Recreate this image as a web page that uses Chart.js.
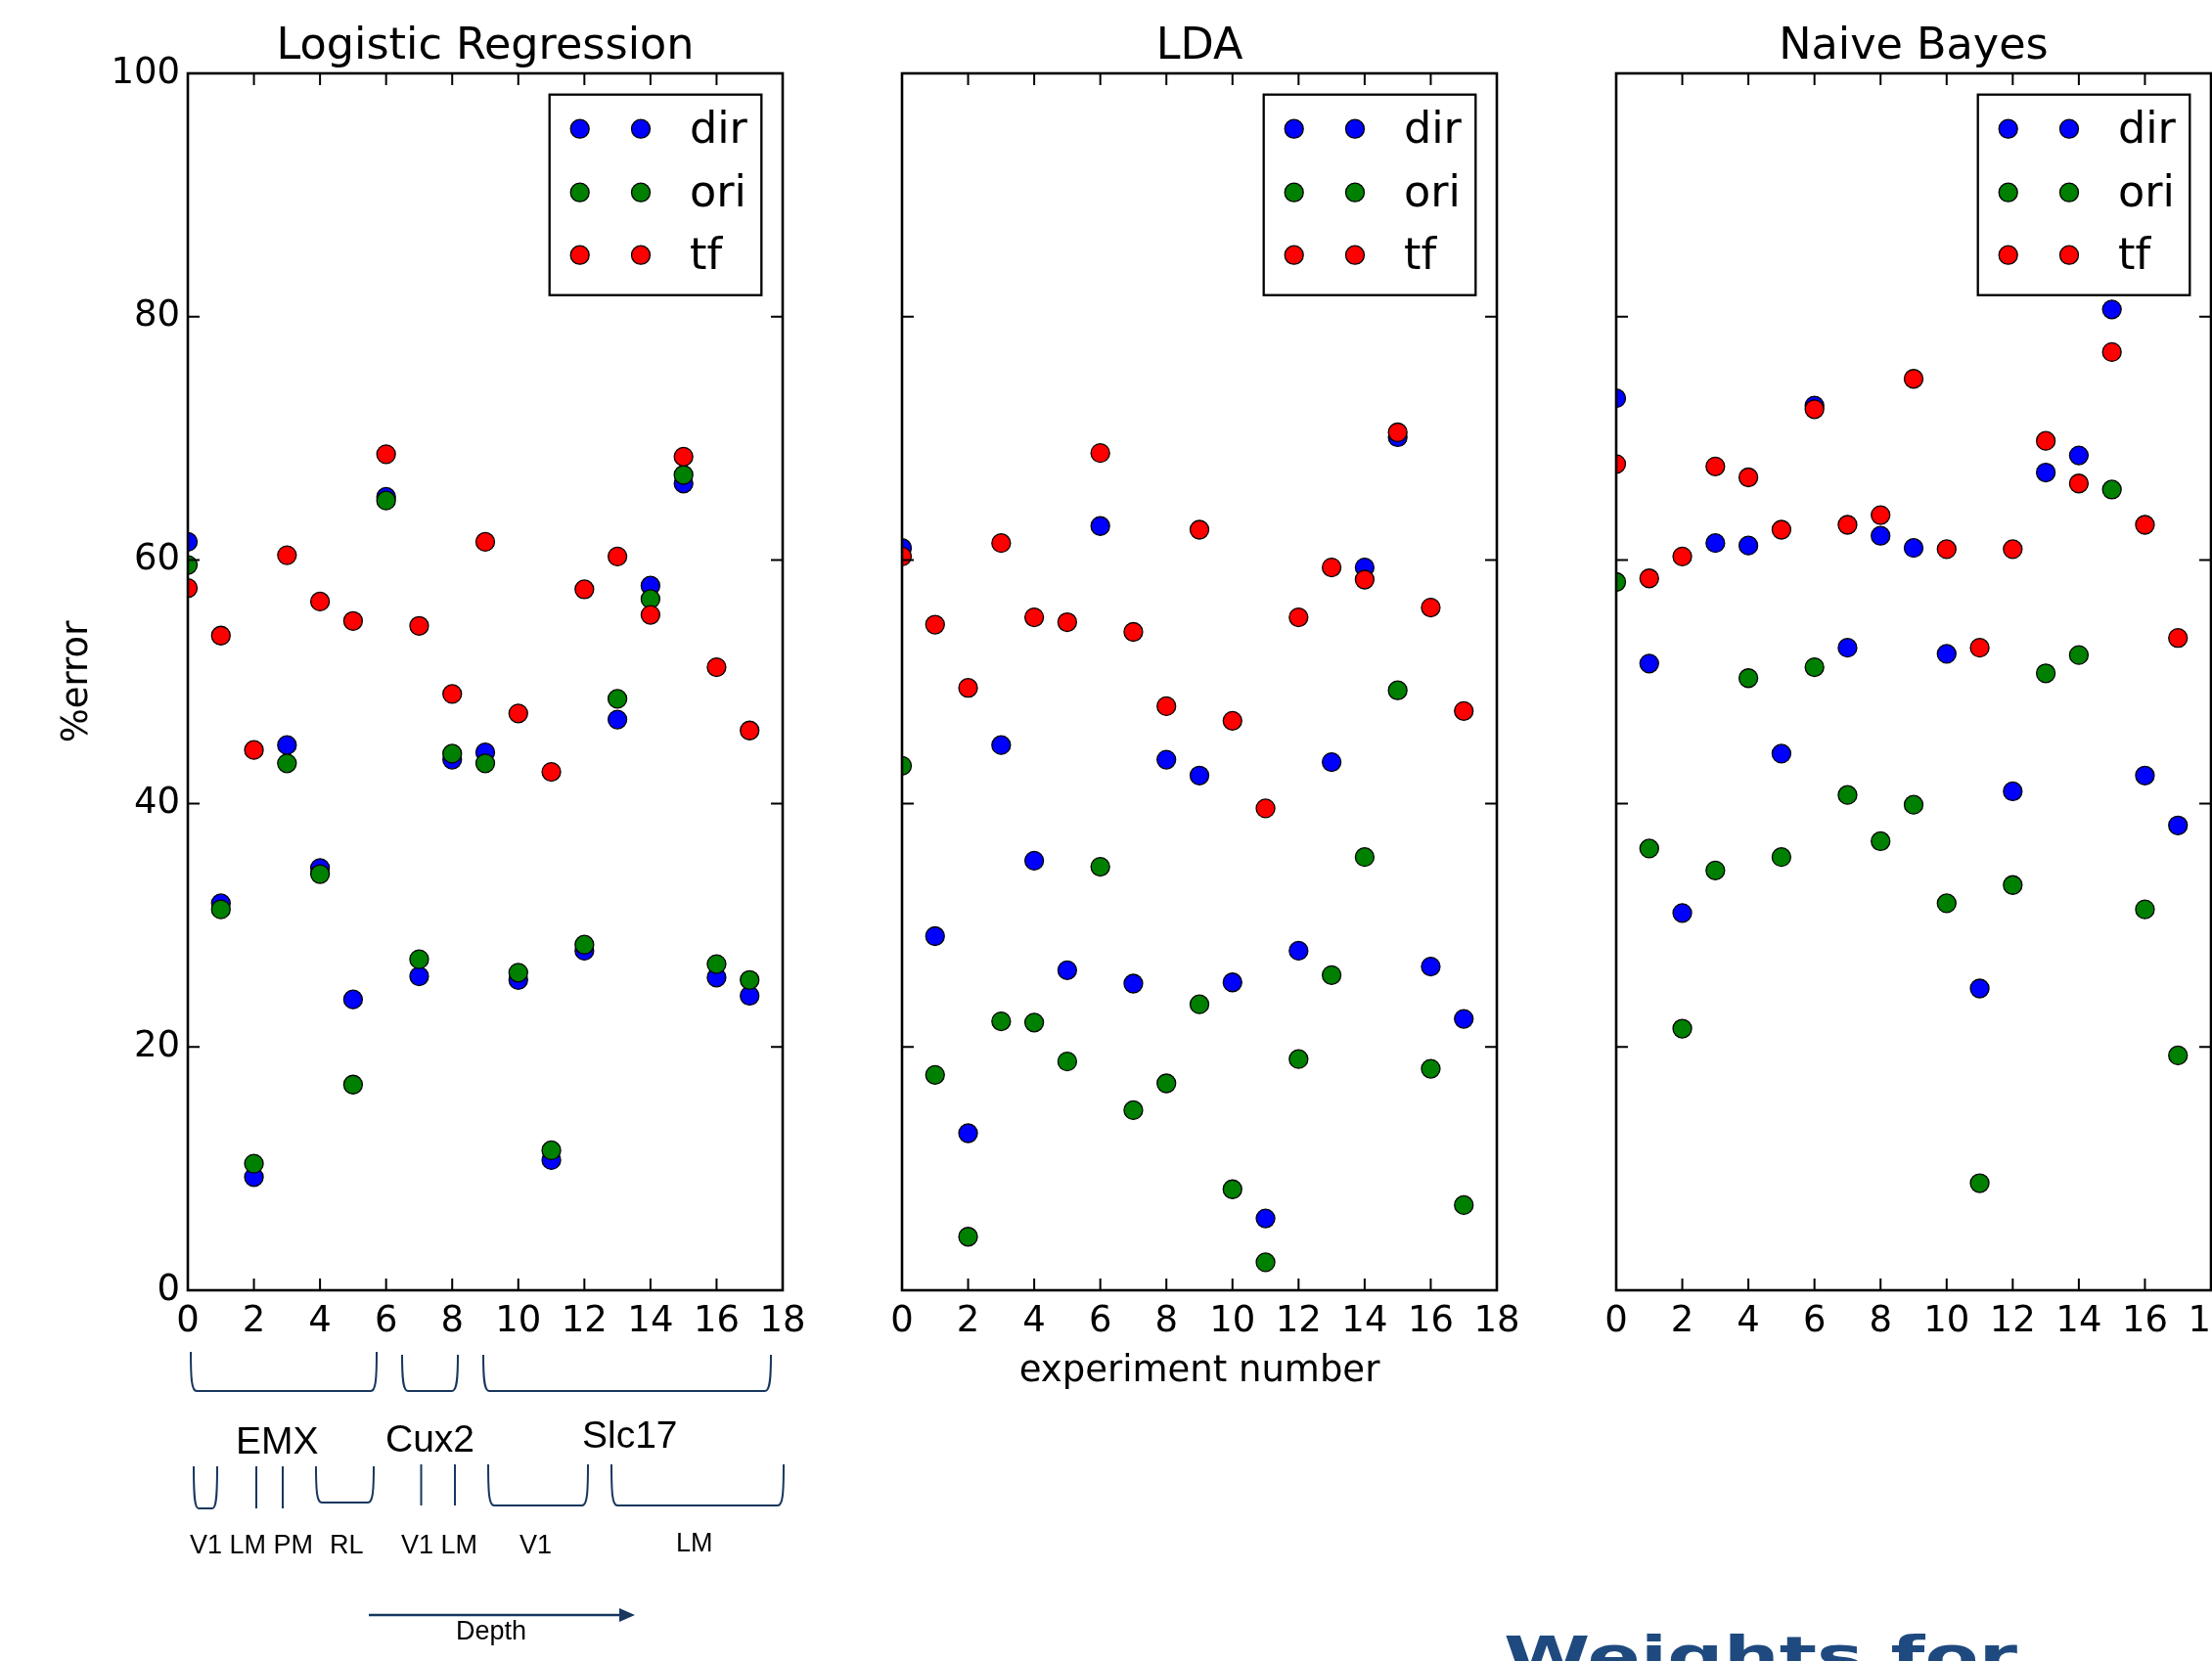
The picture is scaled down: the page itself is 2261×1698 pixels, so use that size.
<!DOCTYPE html>
<html>
<head>
<meta charset="utf-8">
<script src="https://cdn.jsdelivr.net/npm/chart.js@4.4.1/dist/chart.umd.min.js"></script>
<style>
  html, body { margin: 0; padding: 0; background: #fff; }
  #fig { position: relative; width: 2261px; height: 1698px; overflow: hidden; background: #fff; }
  #fig canvas { position: absolute; top: 0; }
  #notes { position: absolute; left: 0; top: 0; }
  #notes text { font-family: "Liberation Sans", Arial, sans-serif; fill: #000; }
</style>
</head>
<body>
<div id="fig">
  <canvas id="c0" width="928" height="1440" style="left:32px"></canvas>
  <canvas id="c1" width="928" height="1440" style="left:762px"></canvas>
  <canvas id="c2" width="928" height="1440" style="left:1492px"></canvas>

  <!-- cell-line / area annotation under the first panel -->
  <svg id="notes" width="2261" height="1698">
    <g fill="none" stroke="#17375e" stroke-width="2">
      <path d="M195,1382 C195,1410 196,1422 201,1422 L379,1422 C384,1422 385,1410 385,1382"/>
      <path d="M411,1385 C411,1410 412,1422 417,1422 L462,1422 C467,1422 468,1410 468,1385"/>
      <path d="M494,1385 C494,1410 495,1422 500,1422 L782,1422 C787,1422 788,1410 788,1385"/>
      <path d="M198,1499 C198,1530 199,1542 203,1542 L217,1542 C221,1542 222,1530 222,1499"/>
      <path d="M262,1499 L262,1542"/>
      <path d="M289,1499 L289,1542"/>
      <path d="M323,1499 C323,1525 324,1536 329,1536 L376,1536 C381,1536 382,1525 382,1499"/>
      <path d="M430.5,1497 L430.5,1539"/>
      <path d="M465,1497 L465,1539"/>
      <path d="M499,1497 C499,1527 500,1539 505,1539 L595,1539 C600,1539 601,1527 601,1497"/>
      <path d="M625,1497 C625,1527 626,1539 631,1539 L795,1539 C800,1539 801,1527 801,1497"/>
      <path d="M377,1651 L636,1651" stroke-width="2.5"/>
    </g>
    <polygon points="633,1644 649,1651 633,1658" fill="#17375e"/>
    <text x="241" y="1486" font-size="39">EMX</text>
    <text x="394" y="1484" font-size="39">Cux2</text>
    <text x="595" y="1480" font-size="39">Slc17</text>
    <text x="194" y="1588" font-size="27">V1 LM PM</text>
    <text x="337" y="1588" font-size="27">RL</text>
    <text x="410" y="1588" font-size="27">V1 LM</text>
    <text x="531" y="1588" font-size="27">V1</text>
    <text x="691" y="1586" font-size="27">LM</text>
    <text x="466" y="1676" font-size="27">Depth</text>
    <text x="1537" y="1712" font-size="56" font-weight="bold" style="font-family:'DejaVu Sans';fill:#1f4a7f"
          textLength="525" lengthAdjust="spacingAndGlyphs">Weights for</text>
  </svg>
</div>

<script>
// experiment index on the x axis
const experiments = [0, 1, 2, 3, 4, 5, 6, 7, 8, 9, 10, 11, 12, 13, 14, 15, 16, 17];

// classification error (%) per experiment, one array per classifier and decoded variable
const lrDir  = [61.5, 31.8, 9.3, 44.8, 34.7, 23.9, 65.2, 25.8, 43.6, 44.2, 25.5, 10.7, 27.9, 46.9, 57.9, 66.3, 25.7, 24.2];
const lrOri  = [59.6, 31.3, 10.4, 43.3, 34.2, 16.9, 64.9, 27.2, 44.1, 43.3, 26.1, 11.5, 28.4, 48.6, 56.8, 67.0, 26.8, 25.5];
const lrTf   = [57.7, 53.8, 44.4, 60.4, 56.6, 55.0, 68.7, 54.6, 49.0, 61.5, 47.4, 42.6, 57.6, 60.3, 55.5, 68.5, 51.2, 46.0];

const ldaDir = [61.0, 29.1, 12.9, 44.8, 35.3, 26.3, 62.8, 25.2, 43.6, 42.3, 25.3, 5.9, 27.9, 43.4, 59.4, 70.1, 26.6, 22.3];
const ldaOri = [43.1, 17.7, 4.4, 22.1, 22.0, 18.8, 34.8, 14.8, 17.0, 23.5, 8.3, 2.3, 19.0, 25.9, 35.6, 49.3, 18.2, 7.0];
const ldaTf  = [60.3, 54.7, 49.5, 61.4, 55.3, 54.9, 68.8, 54.1, 48.0, 62.5, 46.8, 39.6, 55.3, 59.4, 58.4, 70.5, 56.1, 47.6];

const nbDir  = [73.3, 51.5, 31.0, 61.4, 61.2, 44.1, 72.7, 52.8, 62.0, 61.0, 52.3, 24.8, 41.0, 67.2, 68.6, 80.6, 42.3, 38.2];
const nbOri  = [58.2, 36.3, 21.5, 34.5, 50.3, 35.6, 51.2, 40.7, 36.9, 39.9, 31.8, 8.8, 33.3, 50.7, 52.2, 65.8, 31.3, 19.3];
const nbTf   = [67.9, 58.5, 60.3, 67.7, 66.8, 62.5, 72.4, 62.9, 63.7, 74.9, 60.9, 52.8, 60.9, 69.8, 66.3, 77.1, 62.9, 53.6];

const seriesNames  = ['dir', 'ori', 'tf'];
const seriesColors = ['#0000ff', '#008000', '#ff0000'];
const panelTitles  = ['Logistic Regression', 'LDA', 'Naive Bayes'];
const panelSeries  = [[lrDir, lrOri, lrTf], [ldaDir, ldaOri, ldaTf], [nbDir, nbOri, nbTf]];

const xTicks = [0, 2, 4, 6, 8, 10, 12, 14, 16, 18];
const yTicks = [0, 20, 40, 60, 80, 100];

const FONT = '"DejaVu Sans"';
Chart.defaults.font.family = FONT;
Chart.defaults.color = '#000';

const MARKER_R = 9.5;

// axes frame with inward ticks, panel title and a two-marker legend box
const framePlugin = {
  id: 'frame',
  afterDatasetsDraw(chart, args, opts) {
    const ctx = chart.ctx;
    const a = chart.chartArea;
    const xs = chart.scales.x, ys = chart.scales.y;
    ctx.save();
    ctx.strokeStyle = '#000';
    ctx.lineWidth = 2;
    ctx.beginPath();
    xTicks.forEach(v => {
      const px = xs.getPixelForValue(v);
      ctx.moveTo(px, a.bottom); ctx.lineTo(px, a.bottom - 12);
      ctx.moveTo(px, a.top);    ctx.lineTo(px, a.top + 12);
    });
    yTicks.forEach(v => {
      const py = ys.getPixelForValue(v);
      ctx.moveTo(a.left, py);  ctx.lineTo(a.left + 12, py);
      ctx.moveTo(a.right, py); ctx.lineTo(a.right - 12, py);
    });
    ctx.stroke();
    ctx.lineWidth = 2.6;
    ctx.strokeRect(a.left, a.top, a.right - a.left, a.bottom - a.top);

    // title
    ctx.fillStyle = '#000';
    ctx.font = '44.5px ' + FONT;
    ctx.textAlign = 'center';
    ctx.textBaseline = 'alphabetic';
    ctx.fillText(opts.title, (a.left + a.right) / 2, 60);

    // legend
    const bx = a.right - 238.3, by = a.top + 21.7, bw = 216.6, bh = 205;
    ctx.fillStyle = '#fff';
    ctx.fillRect(bx, by, bw, bh);
    ctx.lineWidth = 2.3;
    ctx.strokeRect(bx, by, bw, bh);
    const rows = [35, 100, 164];
    chart.data.datasets.forEach((ds, i) => {
      const ry = by + rows[i];
      [31, 93.3].forEach(dx => {
        ctx.beginPath();
        ctx.arc(bx + dx, ry, MARKER_R, 0, Math.PI * 2);
        ctx.fillStyle = ds.backgroundColor;
        ctx.fill();
        ctx.lineWidth = 1.3;
        ctx.strokeStyle = '#000';
        ctx.stroke();
      });
      ctx.fillStyle = '#000';
      ctx.font = '44.5px ' + FONT;
      ctx.textAlign = 'left';
      ctx.fillText(ds.label, bx + 143.3, ry + 14.5);
    });
    ctx.restore();
  }
};

panelSeries.forEach((series, p) => {
  const datasets = series.map((vals, s) => ({
    label: seriesNames[s],
    data: experiments.map((x, i) => ({ x: x, y: vals[i] })),
    backgroundColor: seriesColors[s],
    borderColor: '#000',
    borderWidth: 1.3,
    pointRadius: MARKER_R,
    pointHoverRadius: MARKER_R,
    order: 3 - s,
    clip: 0
  }));

  new Chart(document.getElementById('c' + p), {
    type: 'scatter',
    data: { datasets },
    plugins: [framePlugin],
    options: {
      responsive: false,
      animation: false,
      devicePixelRatio: 1,
      events: [],
      layout: { padding: { left: 0, right: 160, top: 75, bottom: 0 } },
      plugins: {
        legend: { display: false },
        tooltip: { enabled: false },
        title: { display: false },
        frame: { title: panelTitles[p] }
      },
      scales: {
        x: {
          type: 'linear',
          min: 0, max: 18,
          afterBuildTicks: s => { s.ticks = xTicks.map(v => ({ value: v })); },
          afterFit: s => { s.height = 121; },
          grid: { display: false, drawTicks: false, tickLength: 0 },
          border: { display: false },
          ticks: {
            font: { size: 37 }, color: '#000', padding: 10,
            autoSkip: false, maxRotation: 0, minRotation: 0,
            callback: v => String(v)
          },
          title: {
            display: p === 1, text: 'experiment number', color: '#000',
            font: { size: 37 }, padding: { top: 0, bottom: 15 }
          }
        },
        y: {
          type: 'linear',
          min: 0, max: 100,
          afterBuildTicks: s => { s.ticks = yTicks.map(v => ({ value: v })); },
          afterFit: s => { s.width = 160; },
          grid: { display: false, drawTicks: false, tickLength: 0 },
          border: { display: false },
          ticks: {
            display: p === 0, font: { size: 37 }, color: '#000', padding: 8,
            callback: v => String(v)
          },
          title: {
            display: p === 0, text: '%error', color: '#000',
            font: { size: 37 }, padding: { top: 25, bottom: 0 }
          }
        }
      }
    }
  });
});
</script>
</body>
</html>
